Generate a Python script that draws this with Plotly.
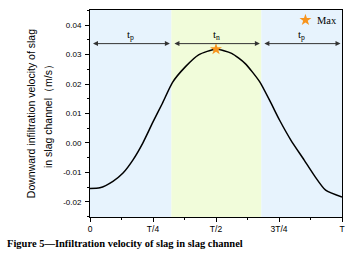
import plotly.graph_objects as go

t = [0, 0.039, 0.091, 0.131, 0.170, 0.209, 0.248, 0.287, 0.327, 0.379, 0.431, 0.5,
     0.562, 0.615, 0.673, 0.719, 0.752, 0.797, 0.850, 0.889, 0.935, 1.0]
v = [-0.0154, -0.0152, -0.0130, -0.0102, -0.0058, -0.0001, 0.0068, 0.0134, 0.0205, 0.0259,
     0.0299, 0.0318, 0.0304, 0.0270, 0.0208, 0.0134, 0.0078, 0.0010, -0.0058, -0.0109,
     -0.0160, -0.0183]
phase_bounds = [0, 0.323, 0.68, 1.0]
phase_labels = ["t<sub>p</sub>", "t<sub>n</sub>", "t<sub>p</sub>"]
phase_colors = ["#E7F3FD", "#F1FCDA", "#E7F3FD"]
arrow_y = 0.0337
max_t, max_v = 0.5, 0.0318
xtick_vals = [0, 0.25, 0.5, 0.75, 1.0]
xtick_text = ["0", "T/4", "T/2", "3T/4", "T"]
ytick_vals = [-0.02, -0.01, 0.0, 0.01, 0.02, 0.03, 0.04]
ytick_text = ["-0.02", "-0.01", "0.00", "0.01", "0.02", "0.03", "0.04"]
ytitle_lines = ["Downward infiltration velocity of slag", "in slag channel（m/s）"]

PW, PH = 255.0, 207.0

fig = go.Figure()

shapes = []
for i in range(3):
    shapes.append(dict(type="rect", xref="x", yref="paper", x0=phase_bounds[i], x1=phase_bounds[i+1],
                       y0=0, y1=1, fillcolor=phase_colors[i], line_width=0, layer="below"))
fig.update_layout(shapes=shapes)

fig.add_trace(go.Scatter(x=t, y=v, mode="lines",
                         line=dict(color="black", width=1.5, shape="spline", smoothing=0.6),
                         showlegend=False))
fig.add_trace(go.Scatter(x=[max_t], y=[max_v], mode="markers", name="Max", showlegend=False,
                         marker=dict(symbol="star", size=9, color="#F7941D", line_width=0)))

ann = []
gap = 0.006
for i in range(3):
    a0 = phase_bounds[i] + gap
    a1 = phase_bounds[i+1] - gap
    ann.append(dict(x=a1, y=arrow_y, ax=a0, ay=arrow_y, xref="x", yref="y", axref="x", ayref="y",
                    showarrow=True, arrowhead=2, arrowside="end+start", arrowsize=1, arrowwidth=1,
                    arrowcolor="#333333", text=""))
    ann.append(dict(x=(phase_bounds[i] + phase_bounds[i+1]) / 2, y=arrow_y, xref="x", yref="y",
                    text=phase_labels[i], showarrow=False, yanchor="bottom", yshift=0,
                    font=dict(family="Liberation Serif", size=11, color="black")))
# legend (drawn manually to match position)
fig.add_trace(go.Scatter(x=[(308 - 90) / PW], y=[0.04 + (25 - 20) / 2940.0], mode="markers",
                         showlegend=False, hoverinfo="skip",
                         marker=dict(symbol="star", size=9, color="#F7941D", line_width=0)))
ann.append(dict(x=(318 - 90) / PW, y=1 - (20 - 10) / PH, xref="paper", yref="paper", text="Max",
                showarrow=False, xanchor="left", yanchor="middle",
                font=dict(family="Liberation Serif", size=10.5, color="black")))
for xp, line in zip([30, 47], ytitle_lines):
    ann.append(dict(x=(xp - 90) / PW, y=0.5, xref="paper", yref="paper", textangle=-90, showarrow=False,
                    xanchor="center", yanchor="middle", text=line,
                    font=dict(family="Liberation Sans", size=10.5, color="black")))
ann.append(dict(x=-86 / PW, y=(217 - 244) / PH, xref="paper", yref="paper", showarrow=False,
                text="<b>Figure 5—Infiltration velocity of slag in slag channel</b>",
                xanchor="left", yanchor="middle",
                font=dict(family="Liberation Serif", size=10.5, color="black")))
fig.update_layout(annotations=ann)

fig.update_layout(
    width=353, height=267,
    margin=dict(l=90, r=8, t=10, b=50),
    plot_bgcolor="white", paper_bgcolor="white",
    showlegend=False,
    xaxis=dict(range=[0, 1], tickvals=xtick_vals, ticktext=xtick_text, showgrid=False, zeroline=False,
               showline=True, linecolor="black", linewidth=1, mirror=True, ticks="outside", ticklen=4,
               tickcolor="black", tickfont=dict(family="Liberation Sans", size=8.5, color="black"),
               minor=dict(ticks="outside", ticklen=2, dtick=0.125, tickcolor="black")),
    yaxis=dict(range=[-0.0251, 0.0451], tickvals=ytick_vals, ticktext=ytick_text, showgrid=False, zeroline=False,
               showline=True, linecolor="black", linewidth=1, mirror=True, ticks="outside", ticklen=4,
               tickcolor="black", ticklabelstandoff=2,
               tickfont=dict(family="Liberation Sans", size=8, color="black"),
               minor=dict(ticks="outside", ticklen=2, dtick=0.005, tickcolor="black")),
)

fig.write_html("out.html", config={"displayModeBar": False},
               post_script="document.body.style.margin='0';document.body.style.padding='0';")
